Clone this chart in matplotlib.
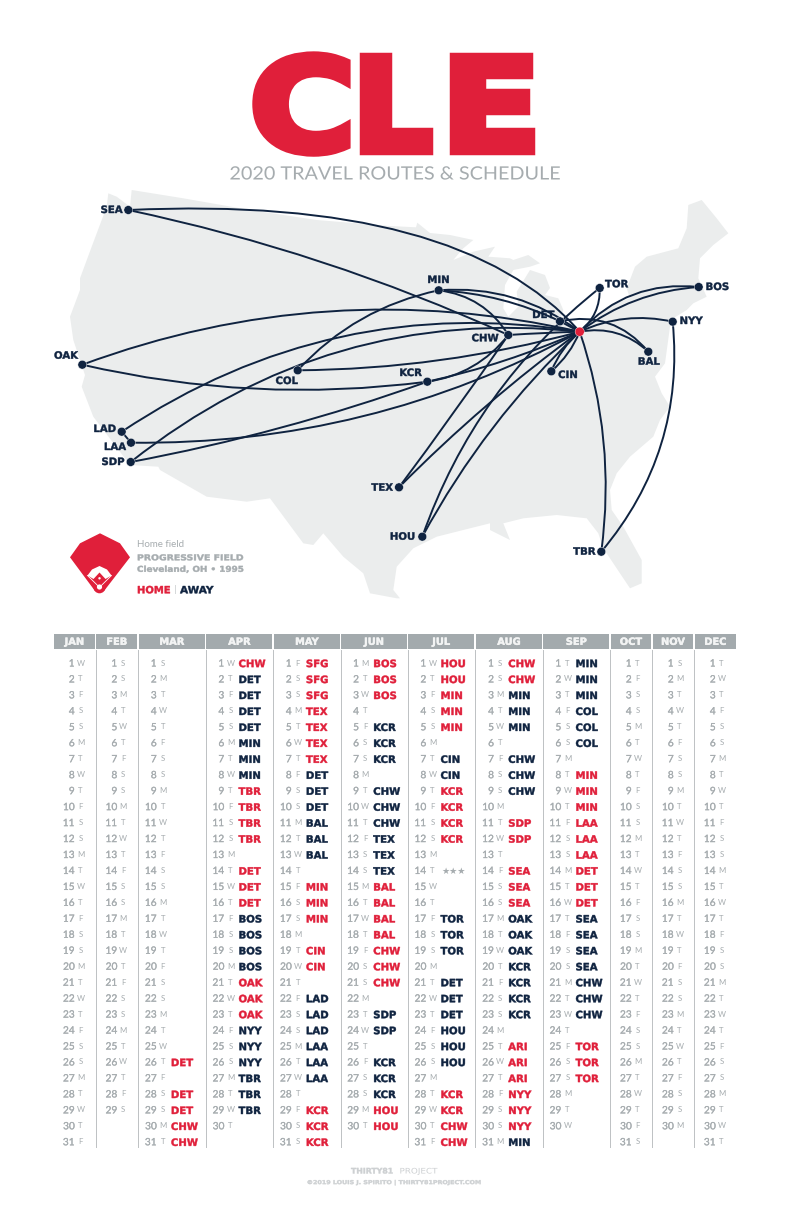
import matplotlib
matplotlib.use("Agg")
import matplotlib.patheffects as pe
import matplotlib.pyplot as plt
from matplotlib.patches import Circle, PathPatch, Polygon
from matplotlib.path import Path
from matplotlib.transforms import Affine2D

plt.rcParams["font.family"] = ["DejaVu Sans"]

RED = "#E01F3A"
NAVY = "#0F2340"
GRAY = "#A6ACAF"
HEADER = "#A3AAAD"
LAND = "#EBEDED"
FOOTER = "#CDD0D2"

MONTHS = ["JAN", "FEB", "MAR", "APR", "MAY", "JUN", "JUL", "AUG", "SEP", "OCT", "NOV", "DEC"]
MONTH_LEFT = [53.7, 96.3, 138.7, 206.3, 273.7, 341, 408.3, 476, 543.3, 610.7, 652.7, 694.7]
MONTH_RIGHT = [95, 137.3, 205, 272.3, 340, 407, 474, 542, 609.3, 651.3, 693.3, 736]

WEEKDAYS = [
    "WTFSSMTWTFSSMTWTFSSMTWTFSSMTWTF",
    "SSMTWTFSSMTWTFSSMTWTFSSMTWTFS",
    "SMTWTFSSMTWTFSSMTWTFSSMTWTFSSMT",
    "WTFSSMTWTFSSMTWTFSSMTWTFSSMTWT",
    "FSSMTWTFSSMTWTFSSMTWTFSSMTWTFSS",
    "MTWTFSSMTWTFSSMTWTFSSMTWTFSSMT",
    "WTFSSMTWTFSSMTWTFSSMTWTFSSMTWTF",
    "SSMTWTFSSMTWTFSSMTWTFSSMTWTFSSM",
    "TWTFSSMTWTFSSMTWTFSSMTWTFSSMTW",
    "TFSSMTWTFSSMTWTFSSMTWTFSSMTWTFS",
    "SMTWTFSSMTWTFSSMTWTFSSMTWTFSSM",
    "TWTFSSMTWTFSSMTWTFSSMTWTFSSMTWT",
]

# one token per day, * = home game, - = no game
MAR_GAMES = "- - - - - - - - - - - - - - - - - - - - - - - - - *DET - *DET *DET *CHW *CHW"
APR_GAMES = ("*CHW DET DET DET DET MIN MIN MIN *TBR *TBR *TBR *TBR - *DET *DET *DET "
             "BOS BOS BOS BOS *OAK *OAK *OAK NYY NYY NYY TBR TBR TBR -")
MAY_GAMES = ("*SFG *SFG *SFG *TEX *TEX *TEX *TEX DET DET DET BAL BAL BAL - *MIN *MIN *MIN - "
             "*CIN *CIN - LAD LAD LAD LAA LAA LAA - *KCR *KCR *KCR")
JUN_GAMES = ("*BOS *BOS *BOS - KCR KCR KCR - CHW CHW CHW TEX TEX TEX *BAL *BAL *BAL *BAL "
             "*CHW *CHW *CHW - SDP SDP - KCR KCR KCR *HOU *HOU")
JUL_GAMES = ("*HOU *HOU *MIN *MIN *MIN - CIN CIN *KCR *KCR *KCR *KCR - ★★★ - - TOR TOR TOR - "
             "DET DET DET HOU HOU HOU - *KCR *KCR *CHW *CHW")
AUG_GAMES = ("*CHW *CHW MIN MIN MIN - CHW CHW CHW - *SDP *SDP - *SEA *SEA *SEA OAK OAK OAK "
             "KCR KCR KCR KCR - *ARI *ARI *ARI *NYY *NYY *NYY MIN")
SEP_GAMES = ("MIN MIN MIN COL COL COL - *MIN *MIN *MIN *LAA *LAA *LAA *DET *DET *DET "
             "SEA SEA SEA SEA CHW CHW CHW - *TOR *TOR *TOR - - -")
GAMES = {"MAR": MAR_GAMES, "APR": APR_GAMES, "MAY": MAY_GAMES, "JUN": JUN_GAMES,
         "JUL": JUL_GAMES, "AUG": AUG_GAMES, "SEP": SEP_GAMES}

CITY_X = {"SEA": 128.3, "OAK": 82.3, "LAD": 121.7, "LAA": 131, "SDP": 130.7, "COL": 297.7,
          "MIN": 438.7, "DET": 560, "CHW": 508.3, "KCR": 427.3, "TEX": 399, "HOU": 422.3,
          "CIN": 551.3, "TOR": 599.7, "BOS": 698.7, "NYY": 672.7, "BAL": 648.3, "TBR": 601.3,
          "CLE": 579.7}
CITY_Y = {"SEA": 210, "OAK": 364.7, "LAD": 431.7, "LAA": 442.7, "SDP": 462, "COL": 370.3,
          "MIN": 290.3, "DET": 321.3, "CHW": 335, "KCR": 381.7, "TEX": 487.3, "HOU": 536.7,
          "CIN": 371.3, "TOR": 288, "BOS": 287, "NYY": 321.7, "BAL": 351.7, "TBR": 551.7,
          "CLE": 331.7}

# from, to, bend, skew (bend > 0 bows to the right of travel, y pointing down)
ROUTES = [
    ("SEA", "CLE", -0.216, 0.176), ("SEA", "CHW", -0.055, 0), ("OAK", "CLE", -0.148, 0),
    ("OAK", "KCR", 0.09, 0), ("LAD", "CLE", -0.196, 0), ("LAD", "LAA", 0, 0), ("LAA", "CLE", 0.13, 0),
    ("SDP", "CLE", -0.205, 0), ("SDP", "KCR", 0.04, 0), ("COL", "MIN", -0.16, 0),
    ("COL", "CLE", 0.065, 0), ("MIN", "CLE", -0.19, 0), ("MIN", "DET", -0.10, 0),
    ("MIN", "CHW", -0.24, 0), ("DET", "CLE", 0, 0), ("DET", "BAL", -0.30, 0), ("CHW", "CLE", -0.01, 0),
    ("KCR", "CHW", 0.20, 0), ("TEX", "CHW", 0.01, 0), ("TEX", "CLE", -0.04, 0), ("KCR", "CLE", 0.05, 0),
    ("HOU", "TOR", -0.145, 0), ("HOU", "CLE", -0.08, 0), ("CIN", "CLE", 0.12, 0), ("CIN", "CLE", -0.12, 0),
    ("CLE", "TOR", 0.25, 0), ("CLE", "BOS", -0.25, 0), ("CLE", "BOS", -0.15, 0), ("CLE", "NYY", -0.17, 0),
    ("CLE", "BAL", -0.25, 0), ("CLE", "TBR", -0.118, 0), ("NYY", "TBR", -0.21, 0),
]

LABEL_X = {"SEA": 122.7, "OAK": 66, "LAD": 104.7, "LAA": 115, "SDP": 113, "COL": 286.7,
           "MIN": 438.3, "DET": 543.3, "CHW": 485, "KCR": 410.5, "TEX": 393, "HOU": 415,
           "CIN": 567.8, "TOR": 616.7, "BOS": 717.3, "NYY": 691, "BAL": 648.7, "TBR": 584.3}
LABEL_Y = {"SEA": 210, "OAK": 355.7, "LAD": 429, "LAA": 447, "SDP": 462, "COL": 381,
           "MIN": 280, "DET": 315, "CHW": 338.3, "KCR": 373, "TEX": 487.7, "HOU": 536.7,
           "CIN": 375, "TOR": 284.3, "BOS": 287, "NYY": 321, "BAL": 361.7, "TBR": 551.7}
LABEL_RIGHT = ["SEA", "TEX", "HOU"]

# traced outline of the lower 48
LAND_OUTLINE = [
    (131.7, 190), (183.3, 198.3), (250, 210), (316.7, 220), (390, 226), (416, 227.3),
    (417.3, 222.7), (430, 233), (450, 235), (473.3, 240), (463.3, 248.3), (453.3, 260),
    (473.3, 251.7), (495, 246.7), (488.3, 256.7), (510, 258.3), (513.3, 260), (528.3, 255),
    (540, 263.3), (530, 266.7), (513.3, 270), (505, 285), (503.3, 308.3), (508.3, 316.7),
    (518.3, 306.7), (516.7, 291.7), (530, 270), (545, 275), (550, 288), (545, 295), (558.3, 298.3),
    (563.3, 310), (560, 320), (580, 330), (596.7, 318), (606.7, 306.7), (630, 298.3),
    (626.7, 288.3), (635, 266.7), (646.7, 256.7), (678.3, 248.3), (686.7, 228.3), (688.3, 205),
    (701.7, 200), (716.7, 218.3), (728.3, 233.3), (713.3, 245), (700, 258.3), (698.3, 278.3),
    (706.7, 296.7), (693.3, 303.3), (686.7, 310), (673.3, 318.3), (670, 326.7), (665, 363.3),
    (655, 376.7), (661.7, 393.3), (670, 406.7), (660, 420), (653.3, 436.7), (630, 456.7),
    (616.7, 473.3), (610, 490), (611.7, 510), (623.3, 526.7), (641.7, 560), (641.7, 583.3),
    (630, 588.3), (613.3, 563.3), (603.3, 548.3), (598.3, 533.3), (586.7, 518.3), (556.7, 515),
    (523.3, 518.3), (503.3, 523.3), (510, 540), (490, 530), (490, 523.3), (470, 528.3),
    (436.7, 536.7), (413.3, 548.3), (396.7, 566.7), (393.3, 590), (400, 598.3), (396.7, 598.3),
    (370, 593.3), (363.3, 573.3), (343.3, 556.7), (323.3, 533.3), (313.3, 545), (303.3, 543.3),
    (270, 498.3), (246.7, 501.7), (206.7, 496.7), (160, 470), (158.3, 466.7), (130, 465),
    (93.3, 416.7), (81.7, 386.7), (85, 375), (73.3, 340), (70, 316.7), (80, 290), (80, 278.3),
    (91.7, 246.7), (106.7, 206.7), (108.3, 193.3), (116.7, 196.7), (130, 206.7),
]

FIELD_OUTLINE = [(100, 533.3), (120, 543.3), (130, 557.3), (104, 591), (95, 591), (70, 557.3), (80, 543.3)]
DIRT_OUTLINE = [(87.5, 575.5), (92, 569.5), (99.5, 566), (107, 569.5), (111.5, 575.5),
                (105.5, 579), (99.5, 572.5), (93.5, 579)]


class Stretch(pe.AbstractPathEffect):
    """Widen text about x0, with an optional same colour outline to fatten it."""

    def __init__(self, sx, x0, stroke=0, color=RED):
        super().__init__()
        self.sx, self.x0, self.stroke, self.color = sx, x0, stroke, color

    def draw_path(self, renderer, gc, tpath, affine, rgbFace=None):
        shifted = affine + Affine2D().translate(-self.x0, 0).scale(self.sx, 1).translate(self.x0, 0)
        gc0 = renderer.new_gc()
        gc0.copy_properties(gc)
        if self.stroke:
            gc0.set_linewidth(self.stroke)
            gc0.set_foreground(self.color)
            gc0.set_joinstyle("miter")
        renderer.draw_path(gc0, tpath, shifted, rgbFace)
        gc0.restore()


fig = plt.figure(figsize=(7.9, 12.2), dpi=100)
ax = fig.add_axes([0, 0, 1, 1])
ax.set_xlim(0, 790)
ax.set_ylim(1220, 0)
ax.axis("off")


def bold(x, y, s, color=NAVY, size=7.3, ha="left", sx=1.0, **kw):
    ax.text(x, y + 0.8, s, color=color, fontsize=size, fontweight="bold", ha=ha, va="center",
            path_effects=[Stretch(sx, x, stroke=0.3, color=color)], **kw)


# title
TITLE_X = [249.3, 352.8, 440.7]
TITLE_STRETCH = [1.13, 0.974, 1.15]
for letter, x, sx in zip("CLE", TITLE_X, TITLE_STRETCH):
    ax.text(x, 150.7, letter, color=RED, fontsize=92.3, fontweight="bold", ha="left", va="baseline",
            path_effects=[Stretch(sx, x, stroke=6.1)])
ax.text(395, 174.5, "2020 TRAVEL ROUTES & SCHEDULE", color=GRAY, fontsize=13.2, family="Lato",
        ha="center", va="center", path_effects=[Stretch(1.08, 395)])

# map
ax.add_patch(Polygon(LAND_OUTLINE, closed=True, facecolor=LAND, edgecolor="none", zorder=1))

for start, end, bend, skew in ROUTES:
    x0, y0 = CITY_X[start], CITY_Y[start]
    x1, y1 = CITY_X[end], CITY_Y[end]
    cx = (x0 + x1) / 2 - bend * (y1 - y0) + skew * (x1 - x0)
    cy = (y0 + y1) / 2 + bend * (x1 - x0) + skew * (y1 - y0)
    path = Path([(x0, y0), (cx, cy), (x1, y1)], [Path.MOVETO, Path.CURVE3, Path.CURVE3])
    ax.add_patch(PathPatch(path, facecolor="none", edgecolor=NAVY, linewidth=1.4, zorder=2))

for city in CITY_X:
    color = RED if city == "CLE" else NAVY
    radius = 4.6 if city == "CLE" else 4.4
    ax.add_patch(Circle((CITY_X[city], CITY_Y[city]), radius, facecolor=color,
                        edgecolor="white", linewidth=0.3, zorder=3))
for city in LABEL_X:
    bold(LABEL_X[city], LABEL_Y[city] - 0.8, city, ha="right" if city in LABEL_RIGHT else "center", zorder=4)

# home field key
ax.add_patch(Polygon(FIELD_OUTLINE, closed=True, facecolor=RED, edgecolor="none"))
ax.add_patch(Circle((99.5, 587.3), 6, facecolor=RED, edgecolor="none"))
ax.add_patch(Polygon(DIRT_OUTLINE, closed=True, facecolor="white", edgecolor="none"))
ax.plot([87.5, 99.5, 111.5], [575.5, 587.3, 575.5], color="white", linewidth=0.6)
ax.add_patch(Circle((99.5, 578.3), 1.2, facecolor="white", edgecolor="none"))
ax.add_patch(Circle((99.5, 587), 2.6, facecolor="white", edgecolor="none"))
ax.text(137, 544.2, "Home field", color=GRAY, fontsize=7, family="Lato", va="center")
bold(137, 557, "PROGRESSIVE FIELD", color=GRAY, size=5.8, sx=1.16)
bold(137, 568.5, "Cleveland, OH • 1995", color=GRAY, size=5.8, sx=1.1)
bold(137, 589.5, "HOME", color=RED, size=7.2)
ax.text(175.5, 590, "|", color="#C9CDCF", fontsize=6, va="center", ha="center")
bold(180, 589.5, "AWAY", size=7.2, sx=1.05)

# schedule
number_fx = [pe.withStroke(linewidth=0.15, foreground=GRAY)]
for i, month in enumerate(MONTHS):
    left, right = MONTH_LEFT[i], MONTH_RIGHT[i]
    ax.fill([left, right, right, left], [634, 634, 648.7, 648.7], color=HEADER, linewidth=0)
    center = (left + right) / 2
    ax.text(center, 641.8, month, color="#F3F4F4", fontsize=7.1, fontweight="bold", ha="center", va="center",
            path_effects=[pe.withStroke(linewidth=0.3, foreground="#F3F4F4")])
    if i > 0:
        sep = (MONTH_RIGHT[i - 1] + left) / 2
        ax.plot([sep, sep], [650, 1147], color="#BDC1C3", linewidth=0.7, zorder=1)

    games = GAMES[month].split() if month in GAMES else []
    num_offset, day_offset = (18, 24.2) if month in GAMES else (21, 26.7)
    for d, letter in enumerate(WEEKDAYS[i]):
        y = 663.3 + 15.96 * d
        ax.text(left + num_offset, y + 0.7, str(d + 1), color=GRAY, fontsize=7.3, family="Lato",
                ha="right", va="center", path_effects=number_fx)
        ax.text(left + day_offset, y - 0.3, letter, color=GRAY, fontsize=5.6, family="Lato",
                ha="center", va="center")
        token = games[d] if games else "-"
        if token == "-":
            continue
        if token == "★★★":
            ax.text(left + 33, y + 0.5, token, color=GRAY, fontsize=6.6, family="DejaVu Sans", va="center")
        elif token.startswith("*"):
            bold(left + 32.2, y, token[1:], color=RED)
        else:
            bold(left + 32.2, y, token)

# footer
bold(351, 1170.2, "THIRTY81", color=FOOTER, size=5.5, sx=1.02)
ax.text(399.5, 1171, "PROJECT", color=FOOTER, fontsize=5.5, va="center",
        path_effects=[Stretch(1.15, 399.5)])
bold(306.7, 1181.8, "©2019 LOUIS J. SPIRITO | THIRTY81PROJECT.COM", color=FOOTER, size=3.9, sx=1.17)

fig.savefig("out.png", dpi=100)
